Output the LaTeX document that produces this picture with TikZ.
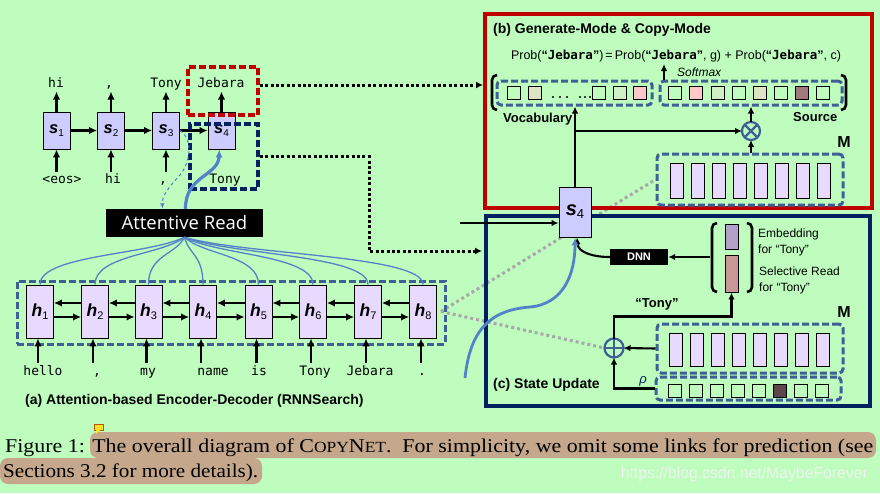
\documentclass[tikz,border=0pt]{standalone}
\usepackage{fontspec}
\usepackage{graphicx}
\setmainfont{Liberation Sans}
\newfontfamily\capfont{Liberation Serif}
\newfontfamily\monofont{DejaVu Sans Mono}
\newfontfamily\arfont{Open Sans}
\usetikzlibrary{arrows.meta,calc,backgrounds}
\definecolor{bgc}{RGB}{190,253,190}
\definecolor{lav}{RGB}{204,204,255}
\definecolor{hfill}{RGB}{232,218,255}
\definecolor{dashblue}{RGB}{62,96,148}
\definecolor{navy}{RGB}{0,32,96}
\definecolor{darkred}{RGB}{192,0,0}
\definecolor{cblue}{RGB}{84,130,200}
\definecolor{grayd}{RGB}{168,168,168}
\definecolor{hil}{RGB}{197,168,140}
\definecolor{sqolive}{RGB}{220,228,196}
\definecolor{sqgreen}{RGB}{210,240,200}
\definecolor{sqpink}{RGB}{255,200,200}
\definecolor{sqbrown}{RGB}{160,122,122}
\definecolor{sqdark}{RGB}{92,72,72}
\definecolor{embc}{RGB}{178,160,200}
\definecolor{selc}{RGB}{200,152,152}
\definecolor{wmark}{RGB}{238,244,238}
\definecolor{noteyel}{RGB}{250,225,40}
\newcommand\sublab[4]{{\fontsize{#1}{#1}\selectfont\bfseries\itshape #3}{\fontsize{#2}{#2}\selectfont\raisebox{-0.25em}{#4}}}
\begin{document}
\begin{tikzpicture}[x=1pt,y=-1pt,
 every node/.style={inner sep=0pt},
 sbox/.style={draw=black,line width=0.9pt,fill=lav,minimum width=27pt,minimum height=37pt},
 hbox/.style={draw=black,line width=0.9pt,fill=hfill,minimum width=27pt,minimum height=53pt},
 arr/.style={line width=2.8pt,-{Latex[length=8pt,width=7.5pt]}},
 arrb/.style={line width=2.1pt,-{Latex[length=7pt,width=6.5pt]}},
 word/.style={font=\monofont\fontsize{13}{13}\selectfont,anchor=base},
 dbox/.style={draw=dashblue,line width=3pt,dash pattern=on 7pt off 3pt,rounded corners=4pt},
 sqbox/.style={draw=black,line width=0.9pt,minimum size=13pt},
 mrect/.style={draw=black,line width=0.9pt,fill=hfill,minimum width=13pt,minimum height=35pt},
 blkdots/.style={line width=3pt,dash pattern=on 3pt off 2.4pt},
 graydots/.style={draw=grayd,line width=3pt,dash pattern=on 3pt off 3pt},
 lbl/.style={font=\bfseries\fontsize{14}{14}\selectfont,anchor=base west},
 attn/.style={draw=cblue,line width=1.3pt},
 brk/.style={line width=2.6pt,rounded corners=5pt}
]
\begin{pgfonlayer}{background}
\fill[bgc] (0,0) rectangle (880,493);
\end{pgfonlayer}
\useasboundingbox (0,0) rectangle (880,493);

% caption
\fill[hil, rounded corners=8pt] (90,432) rectangle (876,458);
\fill[hil, rounded corners=8pt] (0,458) rectangle (262,484);
\node[anchor=base west] (cap1) at (5,452) {\resizebox{868pt}{\height}{\capfont\fontsize{19.5}{19.5}\selectfont Figure 1: The overall diagram of C{\fontsize{15.5}{15.5}\selectfont OPY}N{\fontsize{15.5}{15.5}\selectfont ET}.\ \ For simplicity, we omit some links for prediction (see}};
\node[anchor=base west] (cap2) at (3,477) {\resizebox{255pt}{\height}{\capfont\fontsize{19.5}{19.5}\selectfont Sections 3.2 for more details).}};
\node[anchor=base east, text=wmark] (wm) at (868,478) {\resizebox{247pt}{\height}{\fontsize{16}{16}\selectfont https://blog.csdn.net/MaybeForever}};
\node[fill=noteyel, draw=orange!70!black, line width=0.6pt, minimum width=9pt, minimum height=6pt] (note) at (99,427) {};
\fill[noteyel] (96,430) -- (96,434) -- (100,430) -- cycle;

% frames
\draw[darkred,line width=3.5pt] (485,14) rectangle (872,208);
\draw[navy,line width=3.5pt] (486,216) rectangle (870,406);

% (b)
\node[lbl] (tb) at (493,33) {(b) Generate-Mode \& Copy-Mode};
\node[anchor=base, font=\fontsize{12.5}{12.5}\selectfont] (prob) at (676,59) {Prob(\textbf{“{\monofont Jebara}”})\,=\,Prob(\textbf{“{\monofont Jebara}”}, g) + Prob(\textbf{“{\monofont Jebara}”}, c)};
\node[dbox, minimum width=155pt, minimum height=24pt] (voc) at (574.5,93) {};
\foreach \x/\c [count=\k] in {514/none,535/sqolive,598.7/none,619.7/sqgreen,640.3/sqpink}
  \node[sqbox,fill=\c] (vq\k) at (\x,93) {};
\foreach \x in {553,560,567,580,585,590} \fill (\x,97) circle (1.2pt);
\node[dbox, minimum width=182pt, minimum height=24pt] (src) at (751,93) {};
\foreach \x/\c [count=\k] in {675/none,696/sqpink,718/sqgreen,739/none,760/sqolive,781/none,802/sqbrown,823/none}
  \node[sqbox,fill=\c] (sq\k) at (\x,93) {};
\draw[brk] (497,75) -- (492,75) -- (492,110) -- (497,110);
\draw[brk] (841,75) -- (846,75) -- (846,110) -- (841,110);
\coordinate (smt) at (664,64);
\draw[arrb] (smt |- src.north) -- (smt);
\node[anchor=base west, font=\itshape\fontsize{12}{12}\selectfont] (smx) at (677,76) {Softmax};
\node[lbl, font=\bfseries\fontsize{13}{13}\selectfont] (vlab) at (503,122) {Vocabulary};
\node[lbl, font=\bfseries\fontsize{13}{13}\selectfont] (slab) at (793,121) {Source};
\node[anchor=base, font=\bfseries\fontsize{16}{16}\selectfont] (mlb) at (844,147) {M};
\node[dbox, minimum width=186pt, minimum height=51pt] (mb) at (750,179.5) {};
\foreach \k in {0,...,7} \node[mrect] (mbr\k) at ({676.5+21*\k},180.5) {};
\node[circle,draw=dashblue,line width=2.2pt,minimum size=18pt,outer sep=0pt] (ot) at (751,131) {};
\draw[dashblue,line width=2.2pt] (ot.north east) -- (ot.south west) (ot.north west) -- (ot.south east);

% s4 big
\node[sbox, minimum width=32pt, minimum height=50pt] (s4b) at (575,212) {\sublab{20}{13}{s}{4}};
\draw[arrb] (s4b.north) -- (s4b.north |- voc.south);
\draw[arrb] (s4b.north |- ot) -- (ot.west);
\draw[arrb] (ot.north) -- (ot |- src.south);
\draw[arrb] (ot |- mb.north) -- (ot.south);
\coordinate (inl) at (460,223);
\draw[arrb] (inl) -- (inl -| s4b.west);

% (c)
\node[fill=black, minimum width=58pt, minimum height=16pt, text=white, font=\bfseries\fontsize{11}{11}\selectfont] (dnn) at (639,257) {DNN};
\node[draw=black,line width=0.9pt,fill=embc,minimum width=13pt,minimum height=25pt] (emb) at (731.5,236.5) {};
\node[draw=black,line width=0.9pt,fill=selc,minimum width=13pt,minimum height=37pt] (sel) at (731.5,273.5) {};
\draw[brk] (717,223) -- (712,223) -- (712,292) -- (717,292);
\draw[brk] (747,223) -- (752,223) -- (752,292) -- (747,292);
\coordinate (brl) at (710,257);
\draw[arrb] (brl) -- (dnn.east);
\draw[arrb] (dnn.west) .. controls (592,257) and (578,252) .. ($(s4b.south)+(2,0)$);
\node[anchor=base west, font=\fontsize{12}{12}\selectfont] (e1) at (758,237) {Embedding};
\node[anchor=base west, font=\fontsize{12}{12}\selectfont] (e2) at (758,253) {for “Tony”};
\node[anchor=base west, font=\fontsize{12}{12}\selectfont] (e3) at (759,275) {Selective Read};
\node[anchor=base west, font=\fontsize{12}{12}\selectfont] (e4) at (759,291) {for “Tony”};
\node[anchor=base, font=\bfseries\fontsize{16}{16}\selectfont] (mlc) at (844,317) {M};
\node[dbox, minimum width=186pt, minimum height=49pt] (mc) at (750,348.5) {};
\foreach \k in {0,...,7} \node[mrect, minimum height=33pt] (mcr\k) at ({676+20.95*\k},349.5) {};
\node[dbox, minimum width=185pt, minimum height=23pt] (rho) at (748.5,388.5) {};
\foreach \k/\c in {0/none,1/none,2/none,3/none,4/none,5/sqdark,6/none,7/none}
  \node[sqbox,fill=\c] (rq\k) at ({674.7+21*\k},390.5) {};
\node[circle,draw=dashblue,line width=2.2pt,minimum size=19pt,outer sep=0pt] (op) at (614,348) {};
\draw[dashblue,line width=2.2pt] (op.north) -- (op.south) (op.west) -- (op.east);
\draw[arrb] (mc.west) -- (op.east);
\draw[arrb] (rho.west) -| (op.south);
\draw[arrb] (op.north) |- ($(sel.south)+(0,24)$) -- (sel.south);
\node[anchor=base, font=\bfseries\fontsize{13}{13}\selectfont] (tony) at (657,307) {“Tony”};
\node[font=\itshape\fontsize{13}{13}\selectfont, text=navy] (rholab) at (643,381) {ρ};
\node[lbl] (tc) at (493,388) {(c) State Update};
\draw[cblue,line width=2.8pt,-{Latex[length=8pt,width=7pt]}] (465,378) .. controls (470,330) and (490,310) .. (530,307) .. controls (563,304) and (575,275) .. (s4b.south);

% decoder
\foreach \i/\x in {1/56.5,2/111,3/166,4/221.5} \node[sbox] (s\i) at (\x,130.5) {\sublab{16.5}{10}{s}{\i}};
\foreach \i/\j in {1/2,2/3,3/4} \draw[arr] (s\i.east) -- (s\j.west);
\foreach \i in {1,...,4} \draw[arr] (s\i.north) -- ++(0,-20);
\foreach \i in {1,2,3} \draw[arr] ($(s\i.south)+(0,23)$) -- (s\i.south);
\node[word] (o1) at (56,87) {hi};
\node[word] (o2) at (109,87) {,};
\node[word] (o3) at (166,87) {Tony};
\node[word] (o4) at (221,87) {Jebara};
\node[word] (i1) at (62,183) {<eos>};
\node[word] (i2) at (113,183) {hi};
\node[word] (i3) at (163,183) {,};
\node[word] (i4) at (225,183) {Tony};
\node[draw=darkred,line width=3.6pt,dash pattern=on 7pt off 3pt,minimum width=70pt,minimum height=48pt] (rd) at (223,91) {};
\node[draw=navy,line width=3.4pt,dash pattern=on 7pt off 3pt,minimum width=68pt,minimum height=65pt] (nd) at (224,156.5) {};
\coordinate (t1) at (483,85);
\coordinate (t2) at (482,251);
\draw[blkdots,-{Latex[length=7pt,width=7pt]}] (rd.east |- t1) -- (t1);
\draw[blkdots,-{Latex[length=7pt,width=7pt]}] (nd.east) -- (369,156.5) -- (369,251) -- (t2);

% encoder
\foreach \i/\x in {1/40,2/95,3/148.5,4/203,5/258.5,6/313,7/368,8/423} \node[hbox] (h\i) at (\x,311.5) {\sublab{17.5}{11}{h}{\i}};
\node[draw=dashblue,line width=3pt,dash pattern=on 7pt off 3pt,minimum width=428pt,minimum height=63pt] (enc) at (231,312.5) {};
\foreach \i/\j in {1/2,2/3,3/4,4/5,5/6,6/7,7/8} {
  \draw[arr] ($(h\j.west)+(0,-8.5)$) -- ($(h\i.east)+(0,-8.5)$);
  \draw[arr] ($(h\i.east)+(0,5.5)$) -- ($(h\j.west)+(0,5.5)$);
}
\foreach \i in {1,...,8} \draw[arr] ($(h\i.south)+(-2,25)$) -- ($(h\i.south)+(-2,0)$);
\node[word] (w1) at (43,375) {hello};
\node[word] (w2) at (97,375) {,};
\node[word] (w3) at (148,375) {my};
\node[word] (w4) at (213,375) {name};
\node[word] (w5) at (259,375) {is};
\node[word] (w6) at (315,375) {Tony};
\node[word] (w7) at (370,375) {Jebara};
\node[word] (w8) at (422,375) {.};
\node[lbl] (ta) at (25,404) {(a) Attention-based Encoder-Decoder (RNNSearch)};

% attentive read
\node[fill=black, minimum width=157pt, minimum height=28pt, text=white, font=\arfont\fontsize{18.5}{18.5}\selectfont] (AR) at (184.5,223) {Attentive Read};
\foreach \i/\x in {1/40,2/95,3/148.5,4/203,5/258.5,6/313,7/368,8/423}
  \draw[attn] (AR.south) .. controls ({184.5+(\x-184.5)*0.25},255) and (\x,255) .. (h\i.north);
\draw[cblue,line width=1.1pt,dashed,-{Latex[length=5.5pt,width=4.5pt]}] (s3.east) .. controls (192,137) and (192,160) .. (180,175) .. controls (168,188) and (162,196) .. ($(AR.north)+(-22,0)$);
\draw[cblue,line width=3.2pt,-{Latex[length=8pt,width=7pt]}] ($(AR.north)+(1,0)$) .. controls (185,176) and (218,176) .. ($(s4.south)+(-2,0)$);

\begin{pgfonlayer}{background}
\draw[graydots] ($(h8.east)+(4,0)$) -- (mb.west);
\draw[graydots] ($(h8.east)+(4,0)$) -- (op.west);
\end{pgfonlayer}
\end{tikzpicture}
\end{document}
